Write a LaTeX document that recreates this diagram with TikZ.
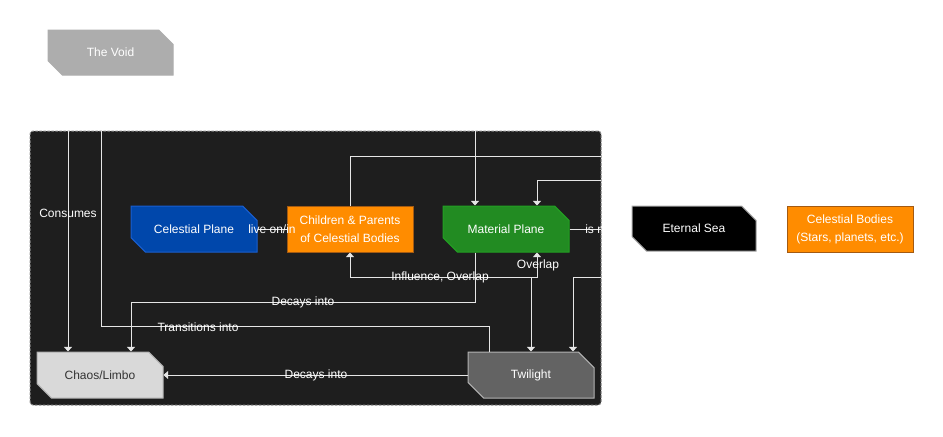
\documentclass[tikz,border=0pt]{standalone}
\usepackage{fontspec}
\setmainfont{Liberation Sans}
\usetikzlibrary{shapes.misc,arrows.meta}
\definecolor{bgdark}{HTML}{1E1E1E}
\definecolor{framec}{HTML}{8C8C8C}
\definecolor{linec}{HTML}{E6E6E6}
\definecolor{voidc}{HTML}{ADADAD}
\definecolor{bluef}{HTML}{0047AB}
\definecolor{blued}{HTML}{1A5FD0}
\definecolor{orangef}{HTML}{FF8C00}
\definecolor{oranged}{HTML}{A35A12}
\definecolor{greenf}{HTML}{228B22}
\definecolor{greend}{HTML}{22A022}
\definecolor{chaosf}{HTML}{D9D9D9}
\definecolor{chaosd}{HTML}{B0B0B0}
\definecolor{twif}{HTML}{636363}
\definecolor{twid}{HTML}{B3B3B3}
\definecolor{sead}{HTML}{A6A6A6}
\begin{document}
\begin{tikzpicture}[x=0.75pt,y=-0.75pt,
  every node/.style={font=\fontsize{9pt}{13.5pt}\selectfont},
  notchbox/.style={chamfered rectangle,
    chamfered rectangle corners={north east,south west},
    chamfered rectangle xsep=7.5pt, chamfered rectangle ysep=7.5pt,
    minimum width=94.5pt, minimum height=34.5pt, inner sep=0pt,
    line width=0.75pt, text=white, align=center},
  plainbox/.style={rectangle, minimum width=94.5pt, minimum height=34.5pt,
    inner sep=0pt, line width=0.75pt, text=white, align=center,
    fill=orangef, draw=oranged},
  line/.style={draw=linec, line width=0.75pt},
  conn/.style={line, -{Triangle[width=6pt,length=3.5pt]}},
  lbl/.style={text=white, inner sep=0pt},
  frame/.style={fill=bgdark, draw=framec, line width=0.75pt,
    dash pattern=on 2pt off 1pt, rounded corners=2.25pt}
]
\useasboundingbox (0,0) rectangle (943,436);

% top-level node
\node[notchbox, fill=voidc, draw=voidc, minimum width=93.75pt, minimum height=33.75pt] (void) at (110.5,52.5) {The Void};

% container
\node[frame, minimum width=428.25pt, minimum height=205.5pt, inner sep=0pt] (cont) at (315.5,268) {};

% nodes
\node[notchbox, fill=bluef, draw=blued] (cp) at (194,229) {Celestial Plane};
\node[plainbox] (ch) at (350,229) {Children \& Parents\\of Celestial Bodies};
\node[notchbox, fill=greenf, draw=greend] (mp) at (506,229) {Material Plane};
\node[notchbox, fill=black, draw=sead, minimum width=93pt, minimum height=33.75pt] (sea) at (694,228.5) {Eternal Sea};
\node[plainbox] (cb) at (850,229) {Celestial Bodies\\(Stars, planets, etc.)};
\node[notchbox, fill=chaosf, draw=chaosd, text=black!80] (chaos) at (100,375) {Chaos/Limbo};
\node[notchbox, fill=twif, draw=twid] (tw) at (531,375) {Twilight};

% edge ends at the container border
\coordinate (cT1) at (68,131);
\coordinate (cT2) at (101,131);
\coordinate (cT3) at (475,131);
\coordinate (cR1) at (601,156);
\coordinate (cR2) at (601,180);
\coordinate (cR3) at (601,229);
\coordinate (cR4) at (601,277);
\coordinate (j1) at (531,277);

% connectors
\draw[conn] (cT1) -- (cT1 |- chaos.north);
\draw[line] ([xshift=-31.5pt]tw.north) -- ++(0,-25) -| (cT2);
\draw[conn] (mp.south -| cT3) -- ++(0,50) -| ([xshift=23.25pt]chaos.north);
\draw[conn] (tw.west) -- (chaos.east);
\draw[conn] (cT3) -- (cT3 |- mp.north);
\draw[line] (ch.north) |- (cR1);
\draw[conn] (cR2) -| ([xshift=23.25pt]mp.north);
\draw[line] (cp.east) -- (ch.west);
\draw[conn] (j1) -| (ch.south);
\draw[conn] (j1) -| ([xshift=23.25pt]mp.south);
\draw[conn] (j1) -- (tw.north);
\draw[conn] (cR4) -| ([xshift=31.5pt]tw.north);
\draw[line] (mp.east) -- (cR3);

% labels
\node[lbl] (l1) at (68,213) {Consumes};
\node[lbl] (l2) at (272,229) {live on/in};
\node[lbl] (l3) at (303,302) {Decays into};
\node[lbl] (l4) at (198,327) {Transitions into};
\node[lbl] (l5) at (316,375) {Decays into};
\node[lbl] (l6) at (440,277) {Influence, Overlap};
\node[lbl] (l7) at (538,265) {Overlap};
\begin{scope}
  \clip (570,210) rectangle (601,250);
  \node[lbl, anchor=west] (l8) at (585,229) {is m};
\end{scope}
\end{tikzpicture}
\end{document}
